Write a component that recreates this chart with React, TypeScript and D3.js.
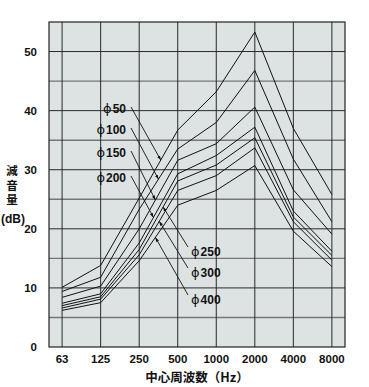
import { useEffect, useRef } from 'react';
import * as d3 from 'd3';

// 中心周波数 (Hz)
const FREQS = ['63', '125', '250', '500', '1000', '2000', '4000', '8000'];

// 減音量 (dB) per duct diameter
const PHI_50 = [10.1, 13.8, 25.2, 36.7, 43.2, 53.3, 37.0, 25.8];
const PHI_100 = [9.4, 11.8, 23.3, 33.5, 38.0, 46.8, 31.8, 21.2];
const PHI_150 = [8.4, 10.3, 20.0, 31.6, 34.4, 40.6, 26.6, 19.1];
const PHI_200 = [7.4, 9.0, 17.6, 29.3, 32.4, 37.2, 23.0, 16.2];
const PHI_250 = [7.0, 8.5, 16.5, 28.1, 30.8, 35.4, 22.0, 15.5];
const PHI_300 = [6.6, 8.1, 15.6, 26.5, 29.0, 33.7, 21.2, 14.7];
const PHI_400 = [6.2, 7.5, 14.6, 24.0, 26.5, 30.7, 19.6, 13.6];

const SERIES = [
  { name: '50', values: PHI_50 },
  { name: '100', values: PHI_100 },
  { name: '150', values: PHI_150 },
  { name: '200', values: PHI_200 },
  { name: '250', values: PHI_250 },
  { name: '300', values: PHI_300 },
  { name: '400', values: PHI_400 },
];

const Y_TICKS = [0, 10, 20, 30, 40, 50];

// label placement: side, label baseline y, leader target as fraction between 250 and 500
const LABELS = [
  { name: '50', side: 'left', y: 113, t: 0.56 },
  { name: '100', side: 'left', y: 134, t: 0.5 },
  { name: '150', side: 'left', y: 157, t: 0.42 },
  { name: '200', side: 'left', y: 182, t: 0.37 },
  { name: '250', side: 'right', y: 256, t: 0.62 },
  { name: '300', side: 'right', y: 277, t: 0.52 },
  { name: '400', side: 'right', y: 304, t: 0.42 },
];

const W = 369;
const H = 387;
const M = { left: 49, right: 345, top: 22, bottom: 347 };

export default function App() {
  const ref = useRef<SVGSVGElement>(null);

  useEffect(() => {
    if (!ref.current) return;
    const svg = d3.select(ref.current);
    svg.selectAll('*').remove();

    const x = d3.scalePoint<string>().domain(FREQS).range([M.left, M.right]).padding(0.34);
    const y = d3.scaleLinear().domain([0, 55]).range([M.bottom, M.top]);
    const step = x.step();

    const numFont = 'Liberation Sans, Arial, sans-serif';
    const jpFont = 'Noto Sans CJK JP, sans-serif';

    svg
      .append('defs')
      .append('marker')
      .attr('id', 'arr')
      .attr('viewBox', '0 0 10 10')
      .attr('refX', 10)
      .attr('refY', 5)
      .attr('markerWidth', 5)
      .attr('markerHeight', 5)
      .attr('orient', 'auto')
      .append('path')
      .attr('d', 'M0,1.5L10,5L0,8.5Z')
      .attr('fill', '#111');

    // plot background
    svg
      .append('rect')
      .attr('x', M.left)
      .attr('y', M.top)
      .attr('width', M.right - M.left)
      .attr('height', M.bottom - M.top)
      .attr('fill', '#dce3e2');

    // grid: every 5 dB and every band
    const grid = svg.append('g');
    d3.range(5, 55, 5).forEach((v) => {
      grid
        .append('line')
        .attr('x1', M.left)
        .attr('x2', M.right)
        .attr('y1', y(v))
        .attr('y2', y(v))
        .attr('stroke', v % 10 === 0 ? '#2a2a2a' : '#777')
        .attr('stroke-width', v % 10 === 0 ? 1 : 1.4);
    });
    FREQS.forEach((f) => {
      grid
        .append('line')
        .attr('x1', x(f)!)
        .attr('x2', x(f)!)
        .attr('y1', M.top)
        .attr('y2', M.bottom)
        .attr('stroke', '#2a2a2a')
        .attr('stroke-width', 1);
    });

    svg
      .append('rect')
      .attr('x', M.left)
      .attr('y', M.top)
      .attr('width', M.right - M.left)
      .attr('height', M.bottom - M.top)
      .attr('fill', 'none')
      .attr('stroke', '#222')
      .attr('stroke-width', 1.2);

    // series lines
    const line = d3
      .line<number>()
      .x((_, i) => x(FREQS[i])!)
      .y((d) => y(d));

    svg
      .append('g')
      .selectAll('path')
      .data(SERIES)
      .join('path')
      .attr('d', (d) => line(d.values))
      .attr('fill', 'none')
      .attr('stroke', '#111')
      .attr('stroke-width', 1);

    // y tick labels
    svg
      .append('g')
      .selectAll('text')
      .data(Y_TICKS)
      .join('text')
      .attr('x', 37)
      .attr('y', (d) => y(d) + 4)
      .attr('text-anchor', 'end')
      .attr('font-family', numFont)
      .attr('font-weight', 'bold')
      .attr('font-size', 11.5)
      .attr('fill', '#111')
      .text((d) => d);

    // x tick labels
    svg
      .append('g')
      .selectAll('text')
      .data(FREQS)
      .join('text')
      .attr('x', (d) => x(d)!)
      .attr('y', 363)
      .attr('text-anchor', 'middle')
      .attr('font-family', numFont)
      .attr('font-weight', 'bold')
      .attr('font-size', 11.5)
      .attr('fill', '#111')
      .text((d) => d);

    // axis titles
    svg
      .append('text')
      .attr('x', (M.left + M.right) / 2)
      .attr('y', 382)
      .attr('text-anchor', 'middle')
      .attr('font-family', jpFont)
      .attr('font-weight', 'bold')
      .attr('font-size', 12.5)
      .attr('fill', '#111')
      .text('中心周波数（Hz）');

    ['減', '音', '量'].forEach((c, i) => {
      svg
        .append('text')
        .attr('x', 12)
        .attr('y', 175 + i * 14.5)
        .attr('text-anchor', 'middle')
        .attr('font-family', jpFont)
        .attr('font-weight', 'bold')
        .attr('font-size', 11.5)
        .attr('fill', '#111')
        .text(c);
    });
    svg
      .append('text')
      .attr('x', 13)
      .attr('y', 223)
      .attr('text-anchor', 'middle')
      .attr('font-family', numFont)
      .attr('font-weight', 'bold')
      .attr('font-size', 12)
      .attr('fill', '#111')
      .text('(dB)');

    // diameter labels and leaders
    const x250 = x('250')!;
    const ann = svg.append('g');
    LABELS.forEach((l) => {
      const s = SERIES.find((d) => d.name === l.name)!;
      const v = s.values[2] + l.t * (s.values[3] - s.values[2]);
      const tx = x250 + l.t * step;
      const ty = y(v);
      const left = l.side === 'left';
      const lx = left ? 126 : 191;
      const t = ann
        .append('text')
        .attr('x', lx)
        .attr('y', l.y)
        .attr('text-anchor', left ? 'end' : 'start')
        .attr('font-size', 12)
        .attr('fill', '#111');
      t.append('tspan')
        .attr('font-family', 'DejaVu Sans, sans-serif')
        .attr('font-size', 13)
        .text('ϕ');
      t.append('tspan')
        .attr('font-family', numFont)
        .attr('font-weight', 'bold')
        .attr('dx', 1)
        .text(l.name);
      const sx = left ? 131 : 188;
      const sy = left ? l.y - 6 : l.y - 9;
      ann
        .append('line')
        .attr('x1', sx)
        .attr('y1', sy)
        .attr('x2', tx)
        .attr('y2', ty)
        .attr('stroke', '#111')
        .attr('stroke-width', 0.9)
        .attr('marker-end', 'url(#arr)');
    });
  }, []);

  return (
    <svg
      ref={ref}
      width={W}
      height={H}
      style={{ position: 'absolute', left: 0, top: 0, background: '#fff' }}
    />
  );
}
